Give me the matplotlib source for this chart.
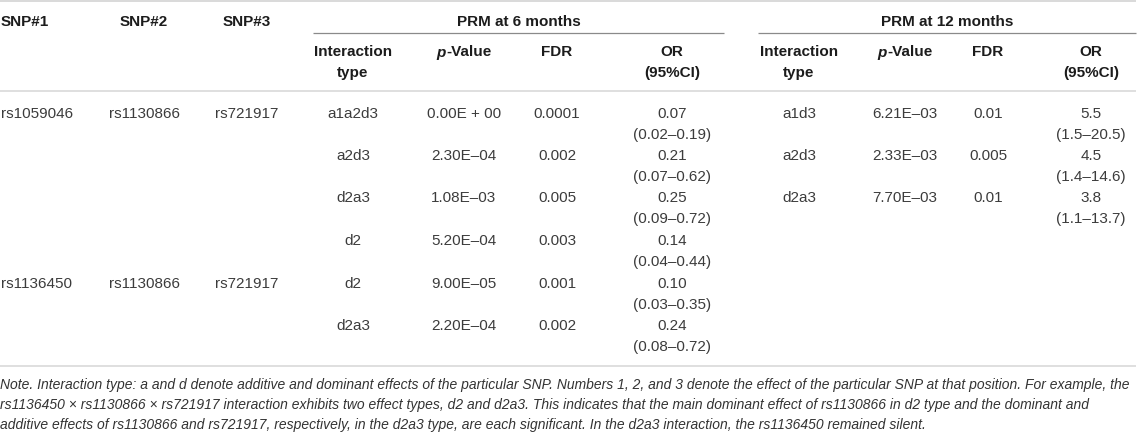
import matplotlib
matplotlib.use('Agg')
import matplotlib.pyplot as plt
from matplotlib import font_manager

# table content
snp1 = ['rs1059046', '', '', '', 'rs1136450', '']
snp2 = ['rs1130866', '', '', '', 'rs1130866', '']
snp3 = ['rs721917', '', '', '', 'rs721917', '']

m6_type = ['a1a2d3', 'a2d3', 'd2a3', 'd2', 'd2', 'd2a3']
m6_p = ['0.00E + 00', '2.30E\u201304', '1.08E\u201303', '5.20E\u201304', '9.00E\u201305', '2.20E\u201304']
m6_fdr = ['0.0001', '0.002', '0.005', '0.003', '0.001', '0.002']
m6_or = ['0.07', '0.21', '0.25', '0.14', '0.10', '0.24']
m6_ci = ['(0.02\u20130.19)', '(0.07\u20130.62)', '(0.09\u20130.72)',
         '(0.04\u20130.44)', '(0.03\u20130.35)', '(0.08\u20130.72)']

m12_type = ['a1d3', 'a2d3', 'd2a3']
m12_p = ['6.21E\u201303', '2.33E\u201303', '7.70E\u201303']
m12_fdr = ['0.01', '0.005', '0.01']
m12_or = ['5.5', '4.5', '3.8']
m12_ci = ['(1.5\u201320.5)', '(1.4\u201314.6)', '(1.1\u201313.7)']

group_titles = ['PRM at 6 months', 'PRM at 12 months']

note_lines = [
    'Note. Interaction type: a and d denote additive and dominant effects of the particular SNP. '
    'Numbers 1, 2, and 3 denote the effect of the particular SNP at that position. For example, the',
    'rs1136450 \u00d7 rs1130866 \u00d7 rs721917 interaction exhibits two effect types, d2 and d2a3. '
    'This indicates that the main dominant effect of rs1130866 in d2 type and the dominant and',
    'additive effects of rs1130866 and rs721917, respectively, in the d2a3 type, are each significant. '
    'In the d2a3 interaction, the rs1136450 remained silent.',
]

W, H = 1145, 432
fig = plt.figure(figsize=(W / 100, H / 100), dpi=100)
ax = fig.add_axes([0, 0, 1, 1])
ax.set_xlim(0, W)
ax.set_ylim(H, 0)
ax.axis('off')

FONT = 'Liberation Sans'
FS = 11
DATA_C = '#3c3c3c'
HEAD_C = '#1c1c1c'
BASE = 5.5  # pixel offset from visual centre to baseline

def txt(x, y, s, ha='center', bold=False, style='normal', color=None, size=FS, family=FONT):
    return ax.text(x, y + BASE, s, ha=ha, va='baseline', fontsize=size,
                   fontweight='bold' if bold else 'normal', fontstyle=style,
                   family=family, color=color or (HEAD_C if bold else DATA_C))

# column positions
snp_x = [1, 144, 247]
c6 = [353, 464, 557, 672]
c12 = [799, 905, 988, 1091]
spans = [(313, 724), (758, 1136)]

# rules
ax.plot([0, 1136], [1, 1], color='#cfcfcf', lw=1.1, solid_capstyle='butt')
ax.plot([0, 1136], [91, 91], color='#d6d6d6', lw=1.1, solid_capstyle='butt')
ax.plot([0, 1136], [366, 366], color='#d6d6d6', lw=1.1, solid_capstyle='butt')
for (a, b), title in zip(spans, group_titles):
    ax.plot([a, b], [33, 33], color='#8a8a8a', lw=0.9, solid_capstyle='butt')
    txt((a + b) / 2, 21, title, bold=True)

# header
txt(snp_x[0], 21, 'SNP#1', ha='left', bold=True)
txt(snp_x[1], 21, 'SNP#2', bold=True)
txt(snp_x[2], 21, 'SNP#3', bold=True)

renderer = fig.canvas.get_renderer()

def pvalue_header(cx, y):
    t1 = txt(cx, y, 'p', ha='left', bold=True, style='italic')
    t2 = txt(cx, y, '-Value', ha='left', bold=True)
    w1 = t1.get_window_extent(renderer).width
    w2 = t2.get_window_extent(renderer).width
    left = cx - (w1 + w2) / 2
    t1.set_x(left)
    t2.set_x(left + w1 + 0.5)

for cols in (c6, c12):
    txt(cols[0], 51, 'Interaction', bold=True)
    txt(cols[0], 72, 'type', bold=True)
    pvalue_header(cols[1], 51)
    txt(cols[2], 51, 'FDR', bold=True)
    txt(cols[3], 51, 'OR', bold=True)
    txt(cols[3], 72, '(95%CI)', bold=True)

# body
y0, pitch, sub = 112, 42.5, 21
for i in range(len(m6_type)):
    y = y0 + i * pitch
    if snp1[i]:
        txt(snp_x[0], y, snp1[i], ha='left')
        txt(snp_x[1], y, snp2[i])
        txt(snp_x[2], y, snp3[i])
    txt(c6[0], y, m6_type[i])
    txt(c6[1], y, m6_p[i])
    txt(c6[2], y, m6_fdr[i])
    txt(c6[3], y, m6_or[i])
    txt(c6[3], y + sub, m6_ci[i])

for i in range(len(m12_type)):
    y = y0 + i * pitch
    txt(c12[0], y, m12_type[i])
    txt(c12[1], y, m12_p[i])
    txt(c12[2], y, m12_fdr[i])
    txt(c12[3], y, m12_or[i])
    txt(c12[3], y + sub, m12_ci[i])

# note, italic narrow font scaled to the reference line width
note_font = FONT
try:
    font_manager.findfont('Liberation Sans Narrow', fallback_to_default=False)
    note_font = 'Liberation Sans Narrow'
except Exception:
    pass
probe = txt(0, 383, note_lines[0], ha='left', style='italic', family=note_font, color='#333333')
wp = probe.get_window_extent(renderer).width
note_fs = FS * 1130 / wp
probe.remove()
for k, line in enumerate(note_lines):
    txt(0, 383 + k * 20.5, line, ha='left', style='italic', family=note_font,
        size=note_fs, color='#333333')

fig.savefig('out.png', dpi=100)
